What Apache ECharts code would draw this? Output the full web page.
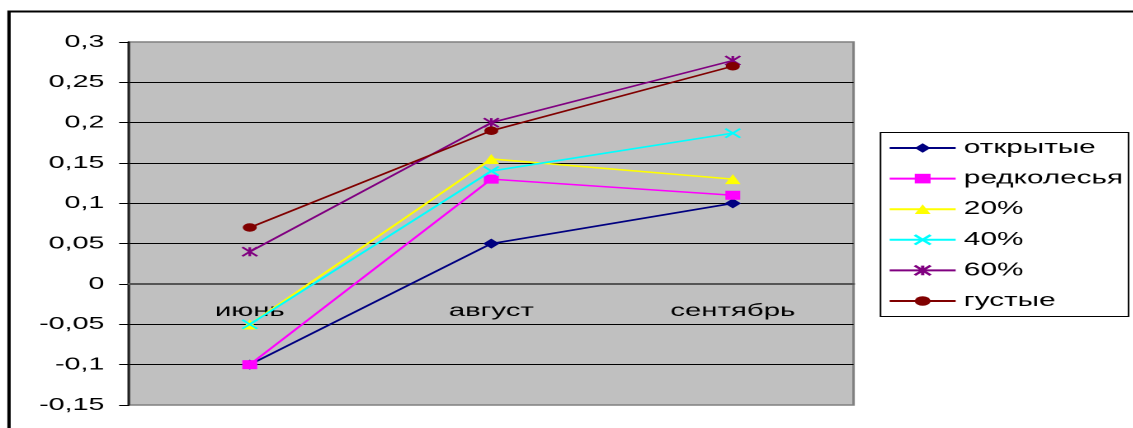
<!DOCTYPE html>
<html>
<head>
<meta charset="utf-8">
<script src="https://cdn.jsdelivr.net/npm/echarts@6/dist/echarts.min.js"></script>
<style>
  html, body { margin: 0; padding: 0; background: #fff; overflow: hidden; }
  #wrap { width: 1133px; height: 428px; overflow: hidden; position: relative; }
  #chart { position: absolute; left: 0; top: 0; height: 428px; transform-origin: 0 0; }
</style>
</head>
<body>
<div id="wrap"><div id="chart"></div></div>
<script>
// Months on the category axis
const categories = ['июнь', 'август', 'сентябрь'];

// Series names (legend order)
const seriesNames = ['открытые', 'редколесья', '20%', '40%', '60%', 'густые'];

// Values per series, one per month
const otkrytye   = [-0.10, 0.05, 0.10];
const redkolesya = [-0.10, 0.13, 0.11];
const p20        = [-0.05, 0.155, 0.13];
const p40        = [-0.05, 0.14, 0.187];
const p60        = [0.04, 0.20, 0.277];
const gustye     = [0.07, 0.19, 0.27];

// Value axis range
const yMin = -0.15;
const yMax = 0.3;
const yStep = 0.05;

// The chart is laid out narrow and stretched horizontally, like a wide-scaled spreadsheet figure
const SX = 1.65;
const W = 1133 / SX;
const H = 428;
const el = document.getElementById('chart');
el.style.width = W + 'px';
el.style.transform = 'scaleX(' + SX + ')';

const FONT = '"Liberation Sans", Arial, sans-serif';
const X_MARK = 'path://M0,0 L10,10 M10,0 L0,10';
const STAR_MARK = 'path://M0,0 L10,10 M10,0 L0,10 M5,0 L5,10';

const styles = [
  { color: '#000080', symbol: 'diamond', size: [10, 10] },
  { color: '#FF00FF', symbol: 'rect', size: [9, 9] },
  { color: '#FFFF00', symbol: 'triangle', size: [9.5, 10] },
  { color: '#00FFFF', symbol: X_MARK, size: [9, 9], stroke: true },
  { color: '#800080', symbol: STAR_MARK, size: [9, 9], stroke: true },
  { color: '#800000', symbol: 'circle', size: [8.5, 8.5] }
];
const values = [otkrytye, redkolesya, p20, p40, p60, gustye];

const series = seriesNames.map((name, i) => {
  const s = styles[i];
  return {
    name: name,
    type: 'line',
    xAxisIndex: 0,
    yAxisIndex: 0,
    data: values[i],
    symbol: s.symbol,
    symbolSize: s.size,
    showAllSymbol: true,
    lineStyle: { color: s.color, width: 1.6 },
    itemStyle: s.stroke
      ? { color: 'rgba(0,0,0,0)', borderColor: s.color, borderWidth: 1.6 }
      : { color: s.color, borderWidth: 0 },
    emphasis: { disabled: true },
    z: 3 + i
  };
});

const plotLeft = 129 / SX;
const plotRight = (1133 - 853) / SX;
const plotTop = 42;
const plotBottom = H - 405;

const chart = echarts.init(el, null, { renderer: 'canvas', devicePixelRatio: 2 });
chart.setOption({
  animation: false,
  backgroundColor: '#fff',
  grid: [
    {
      left: plotLeft, right: plotRight, top: plotTop, bottom: plotBottom,
      outerBoundsMode: 'none', containLabel: false,
      show: true,
      backgroundColor: '#C0C0C0',
      borderColor: '#808080',
      borderWidth: 1.5
    },
    {
      // upper part of the plot, down to the zero line; carries the month labels
      left: plotLeft, right: plotRight, top: plotTop, bottom: plotBottom,
      outerBoundsMode: 'none', containLabel: false, show: false
    }
  ],
  xAxis: [
    {
      type: 'category', gridIndex: 0,
      data: categories,
      boundaryGap: true,
      axisLine: { show: false },
      axisTick: { show: false },
      axisLabel: { show: false },
      splitLine: { show: false }
    },
    {
      type: 'category', gridIndex: 1,
      data: categories,
      boundaryGap: true,
      position: 'bottom',
      axisLine: { show: true, onZero: false, lineStyle: { color: '#555', width: 2 } },
      axisTick: { show: false },
      axisLabel: { color: '#000', fontFamily: FONT, fontSize: 17.8, margin: 18 },
      splitLine: { show: false },
      z: 2
    }
  ],
  yAxis: [
    {
      type: 'value', gridIndex: 0,
      min: yMin, max: yMax, interval: yStep,
      axisLine: { show: true, onZero: false, lineStyle: { color: '#222', width: 1.5 } },
      axisTick: { show: true, length: 6, lineStyle: { color: '#000', width: 1 } },
      axisLabel: {
        color: '#000', fontFamily: FONT, fontSize: 17.3, margin: 15,
        formatter: v => String(Math.round(v * 100) / 100).replace('.', ',')
      },
      splitLine: { show: true, showMinLine: false, showMaxLine: false, lineStyle: { color: '#000', width: 1 } }
    },
    {
      type: 'value', gridIndex: 1,
      min: 0, max: 1,
      show: false
    }
  ],
  legend: {
    data: seriesNames,
    orient: 'vertical',
    left: 888 / SX,
    top: 139,
    padding: 0,
    itemWidth: 66 / SX,
    itemHeight: 12,
    itemGap: 12.6,
    textStyle: { color: '#000', fontFamily: FONT, fontSize: 18, lineHeight: 18 },
    selectedMode: false
  },
  graphic: [
    {
      type: 'rect', silent: true, z: 100,
      shape: { x: 9 / SX, y: 11.5, width: 3000, height: 3000 },
      style: { fill: 'none', stroke: '#000', lineWidth: 2 }
    },
    {
      type: 'rect', silent: true, z: 0,
      shape: { x: 880.5 / SX, y: 132.5, width: 248 / SX, height: 184 },
      style: { fill: '#fff', stroke: '#000', lineWidth: 1 }
    }
  ],
  series: series
});

// Put the month axis on the value axis's zero, as read back from its scale
const zeroY = chart.convertToPixel({ yAxisIndex: 0 }, 0);
chart.setOption({
  grid: [{}, { bottom: H - zeroY }]
});
</script>
</body>
</html>
